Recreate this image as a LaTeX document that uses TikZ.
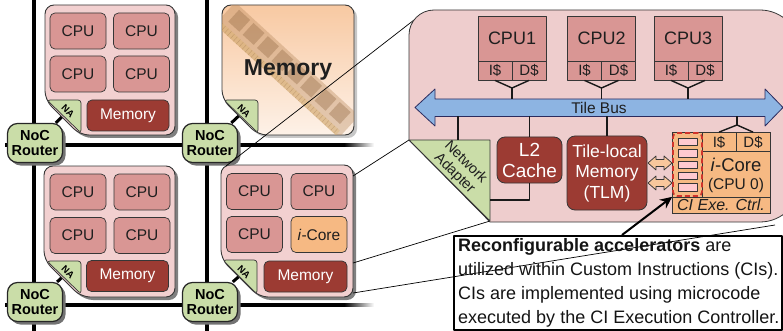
\documentclass[tikz,border=0pt]{standalone}
\usepackage{fontspec}
\setmainfont{Liberation Sans}
\usetikzlibrary{shadows,arrows.meta}
\pgfdeclarelayer{back}
\pgfsetlayers{back,main}

\definecolor{tilepink}{HTML}{F2D0D0}
\definecolor{panelpink}{HTML}{EECDCD}
\definecolor{cpured}{HTML}{D99694}
\definecolor{memred}{HTML}{9C3B33}
\definecolor{nagreen}{HTML}{CADDA8}
\definecolor{icoreorange}{HTML}{F6B983}
\definecolor{busblue}{HTML}{8DB4E2}
\definecolor{regpink}{HTML}{FFC9CF}
\definecolor{dashred}{HTML}{D0342C}
\definecolor{edge}{HTML}{363636}
\definecolor{memtile}{HTML}{F8C9A2}
\definecolor{ramboard}{HTML}{B8895C}
\definecolor{ramchip}{HTML}{946B45}
\definecolor{ramgold}{HTML}{DDB46C}

\begin{document}
\begin{tikzpicture}[x=1pt,y=-1pt,line join=round,
  tile/.style={fill=tilepink, draw=edge, line width=0.9pt, rounded corners=9pt,
    drop shadow={shadow xshift=3pt, shadow yshift=-3pt, fill=black!50, opacity=1}},
  memtilebg/.style={top color=memtile, bottom color=memtile!25!white, draw=edge,
    line width=0.9pt, rounded corners=9pt,
    drop shadow={shadow xshift=3pt, shadow yshift=-3pt, fill=black!22, opacity=1}},
  cpubox/.style={draw=edge, fill=cpured, rounded corners=5pt, line width=0.7pt,
    inner sep=0pt, minimum width=56pt, minimum height=36pt,
    font=\fontsize{15.5}{17}\selectfont, text=black!88},
  membox/.style={cpubox, fill=memred, text=white, minimum width=82pt, minimum height=31pt},
  icorebox/.style={cpubox, fill=icoreorange},
  nashape/.style={fill=nagreen, draw=edge, line width=0.7pt, rounded corners=3pt},
  natext/.style={font=\bfseries\fontsize{9.5}{10}\selectfont, rotate=-45, inner sep=0pt},
  router/.style={draw=black!85, fill=nagreen, line width=1.2pt, rounded corners=10pt,
    minimum width=55pt, minimum height=39pt, inner sep=0pt, align=center,
    font=\bfseries\fontsize{14.5}{15}\selectfont,
    drop shadow={shadow xshift=3pt, shadow yshift=-3pt, fill=black!55, opacity=1}},
  gridline/.style={line width=3.5pt, black},
  link/.style={line width=3pt, black},
  zoomline/.style={line width=0.7pt, black},
  busline/.style={line width=1.4pt, black!90},
  panel/.style={fill=panelpink, draw=edge, line width=0.8pt},
  pcpu/.style={draw=edge, fill=cpured, line width=0.8pt, inner sep=0pt,
    minimum width=68pt, minimum height=45pt, font=\fontsize{18}{20}\selectfont, text=black!88},
  pcell/.style={draw=edge, fill=cpured, line width=0.8pt, inner sep=0pt,
    minimum width=34pt, minimum height=19pt, font=\fontsize{15}{16}\selectfont, text=black!88},
  darkbox/.style={draw=edge, fill=memred, line width=0.8pt, rounded corners=8pt,
    inner sep=0pt, align=center, text=white},
  regbox/.style={draw=edge, fill=regpink, line width=0.7pt, inner sep=0pt,
    minimum width=19pt, minimum height=7.5pt},
  dblarrow/.style={fill=icoreorange!80!white, draw=edge, line width=0.7pt},
  busarrow/.style={fill=busblue, draw=edge!80!blue, line width=0.8pt}
]
\useasboundingbox (0,0) rectangle (783,331);

% ---------------- mesh of tiles ----------------
% tile (0,0): four CPUs and a local memory
\path[tile] (45,5) -- (175,5) -- (175,135) -- (80,135) -- (45,100) -- cycle;
\path[nashape] (47,100) -- (81,100) -- (81,133) -- cycle;
\node[natext] (na1) at (68,111) {NA};
\node[cpubox] (t1a) at (78,31) {CPU};
\node[cpubox] (t1b) at (141.5,31) {CPU};
\node[cpubox] (t1c) at (78,74) {CPU};
\node[cpubox] (t1d) at (141.5,74) {CPU};
\node[membox] (t1m) at (128,115.5) {Memory};

% tile (1,0): external memory with a memory module drawn in the background
\path[memtilebg] (222,5) -- (354,5) -- (354,135) -- (258,135) -- (222,99) -- cycle;
\begin{scope}
  \clip[rounded corners=9pt] (222,5) -- (354,5) -- (354,135) -- (258,135) -- (222,99) -- cycle;
  \begin{scope}[shift={(287,70)}, rotate=-42.5, opacity=0.38]
    \fill[ramboard] (-84,-15) rectangle (84,15);
    \foreach \i in {0,...,7} \fill[ramchip] (-76+\i*19.5,-12) rectangle ++(15,16);
    \fill[ramgold] (-80,9) rectangle (80,15);
    \foreach \i in {0,...,39} \draw[ramchip, line width=0.4pt] (-79+\i*4,9) -- ++(0,6);
  \end{scope}
\end{scope}
\path[nashape] (224,100) -- (258,100) -- (258,133) -- cycle;
\node[natext] (na2) at (244,111) {NA};
\node[font=\bfseries\fontsize{23}{25}\selectfont, text=black!88] (bigmem) at (288,70) {Memory};

% tile (0,1): four CPUs and a local memory
\path[tile] (44,166) -- (175,166) -- (175,297) -- (81,297) -- (44,260) -- cycle;
\path[nashape] (47,261) -- (81,261) -- (81,294) -- cycle;
\node[natext] (na3) at (68,272) {NA};
\node[cpubox] (t3a) at (78,192) {CPU};
\node[cpubox] (t3b) at (142,192) {CPU};
\node[cpubox] (t3c) at (78,235.5) {CPU};
\node[cpubox] (t3d) at (142,235.5) {CPU};
\node[membox] (t3m) at (127.5,276) {Memory};

% tile (1,1): three CPUs, one i-Core and a local memory
\path[tile] (221,165) -- (353,165) -- (353,297) -- (259,297) -- (221,259) -- cycle;
\path[nashape] (223,260) -- (257,260) -- (257,294) -- cycle;
\node[natext] (na4) at (244,272) {NA};
\node[cpubox] (t4a) at (254.5,191.5) {CPU};
\node[cpubox] (t4b) at (319,191.5) {CPU};
\node[cpubox] (t4c) at (254.5,234.5) {CPU};
\node[icorebox] (t4d) at (319,234.5) {\textit{i}-Core};
\node[membox, minimum width=83pt] (t4m) at (305.5,276.5) {Memory};

% NoC routers
\node[router] (r1) at (35,143) {NoC\\Router};
\node[router] (r2) at (210,143) {NoC\\Router};
\node[router] (r3) at (35,302) {NoC\\Router};
\node[router] (r4) at (210,302) {NoC\\Router};

% mesh wiring behind the tiles and routers
\coordinate (v1a) at (34,0);   \coordinate (v1b) at (34,331);
\coordinate (v2a) at (207,0);  \coordinate (v2b) at (207,331);
\coordinate (h1a) at (5,145);  \coordinate (h1b) at (345,145);
\coordinate (h2a) at (5,305);  \coordinate (h2b) at (345,305);
\begin{pgfonlayer}{back}
  \draw[gridline] (v1a) -- (v1b);
  \draw[gridline] (v2a) -- (v2b);
  \draw[gridline] (h1a) -- (h1b);
  \draw[gridline] (h2a) -- (h2b);
  \fill[left color=black, right color=white] (344,143.25) rectangle (374,146.75);
  \fill[left color=black, right color=white] (344,303.25) rectangle (374,306.75);
  \draw[link] (r1) -- (na1);
  \draw[link] (r2) -- (na2);
  \draw[link] (r3) -- (na3);
  \draw[link] (r4) -- (na4);
\end{pgfonlayer}

% ---------------- lines of the enlarged view ----------------
\coordinate (z1a) at (226,166); \coordinate (z1b) at (414,20);
\coordinate (z2a) at (353,176); \coordinate (z2b) at (409,140);
\coordinate (z3a) at (353,263); \coordinate (z3b) at (490,221);
\coordinate (z4a) at (353,293); \coordinate (z4b) at (775,225);
\draw[zoomline] (z1a) -- (z1b);
\draw[zoomline] (z2a) -- (z2b);
\draw[zoomline] (z3a) -- (z3b);
\draw[zoomline] (z4a) -- (z4b);

% ---------------- enlarged tile ----------------
\path[panel] (409,140) -- (409,35) .. controls (409,21.2) and (420.2,10) .. (434,10)
  -- (760,10) .. controls (782,10) and (800,28) .. (800,50)
  -- (800,182) .. controls (800,204) and (782,222) .. (760,222)
  -- (490,222) -- cycle;

% network adapter
\path[fill=nagreen, draw=edge, line width=0.8pt] (409,140) -- (490,140) -- (490,221) -- cycle;
\node[rotate=-45, align=center, inner sep=0pt, font=\fontsize{14.5}{15.5}\selectfont, text=black!88]
  (netad) at (460,168) {Network\\Adapter};

% tile bus
\path[busarrow] (415,107.5) -- (435,89) -- (435,99) -- (765,99) -- (765,89) -- (783,107.5)
  -- (765,126) -- (765,116.5) -- (435,116.5) -- (435,126) -- cycle;
\node[font=\fontsize{15.5}{17}\selectfont, text=black!88] (bus) at (599,107.5) {Tile Bus};
\coordinate (busN) at (599,99);
\coordinate (busS) at (599,116.5);

% CPUs with their caches
\foreach \n/\x in {1/512,2/601.5,3/688}{
  \node[pcpu] (cpu\n) at (\x,38.5) {CPU\n};
  \node[pcell] (cpu\n i) at (\x-17,70.5) {I\$};
  \node[pcell] (cpu\n d) at (\x+17,70.5) {D\$};
  \coordinate (fork\n) at (\x,88);
  \draw[busline] (cpu\n i.south) -- (fork\n) -- (cpu\n d.south);
  \draw[busline] (fork\n) -- (fork\n |- busN);
}

% L2 cache and tile-local memory
\node[darkbox, minimum width=65pt, minimum height=46pt, font=\fontsize{19}{21}\selectfont]
  (l2) at (529.5,160) {L2\\Cache};
\node[darkbox, minimum width=80pt, minimum height=74pt, font=\fontsize{17.5}{20.5}\selectfont]
  (tlm) at (607,173) {Tile-local\\Memory\\(TLM)};
\coordinate (naTop) at (458,140);
\coordinate (naSide) at (490,200);
\draw[busline] (naTop) -- (naTop |- busS);
\draw[busline] (l2.north) -- (l2.north |- busS);
\draw[busline] (tlm.north) -- (tlm.north |- busS);
\draw[busline] (l2.south) -- (l2.south |- naSide) -- (naSide);

% i-Core with its reconfigurable accelerators
\node[draw=edge, fill=icoreorange, line width=0.8pt, minimum width=98pt, minimum height=81pt, inner sep=0pt]
  (icore) at (721,172.5) {};
\node[pcell, fill=icoreorange] (icI) at (719,142) {I\$};
\node[pcell, fill=icoreorange] (icD) at (753,142) {D\$};
\node[draw=edge, fill=icoreorange, line width=0.8pt, minimum width=98pt, minimum height=16pt, inner sep=0pt,
  font=\itshape\fontsize{16}{17}\selectfont, text=black!88] (ciex) at (721,205) {CI Exe. Ctrl.};
\node[draw=edge, line width=0.8pt, minimum width=30pt, minimum height=65pt, inner sep=0pt] (regcol) at (687,164.5) {};
\node[font=\fontsize{18.5}{20}\selectfont, text=black!88] (icname) at (736,164.5) {\textit{i}-Core};
\node[font=\fontsize{15.5}{17}\selectfont, text=black!88] (icsub) at (736,185) {(CPU 0)};
\foreach \k/\y in {1/142,2/153.3,3/164.6,4/175.9,5/187.2}
  \node[regbox] (reg\k) at (687.5,\y) {};
\node[draw=dashred, dash pattern=on 5pt off 3pt, line width=1.7pt, rounded corners=4pt,
  minimum width=29pt, minimum height=63pt, inner sep=0pt] (cizone) at (687.5,164.5) {};
\coordinate (icfork) at (737,125);
\draw[busline] (icI.north) -- (icfork) -- (icD.north);
\draw[busline] (icfork) -- (icfork |- busS);

% TLM <-> accelerator ports
\foreach \c in {163,183}
  \path[dblarrow] (648,\c) -- (656,\c-7) -- (656,\c-3.5) -- (664,\c-3.5) -- (664,\c-7) -- (672,\c)
    -- (664,\c+7) -- (664,\c+3.5) -- (656,\c+3.5) -- (656,\c+7) -- cycle;

% ---------------- explanation ----------------
\node[draw=black, line width=1.8pt, minimum width=328pt, minimum height=94pt, inner sep=0pt,
  anchor=north west] (notebox) at (453,235) {};
\node[anchor=north west, inner sep=0pt, align=left, font=\fontsize{18}{24}\selectfont, text=black!92]
  (notetext) at ([xshift=5pt, yshift=-3pt]notebox.north west)
  {\textbf{Reconfigurable accelerators} are\\utilized within Custom Instructions (CIs).\\CIs are implemented using microcode\\executed by the CI Execution Controller.};
\draw[line width=2pt, -{Stealth[length=12pt, width=11pt]}]
  ([xshift=169pt]notebox.north west) -- (cizone.south west);

\end{tikzpicture}
\end{document}
